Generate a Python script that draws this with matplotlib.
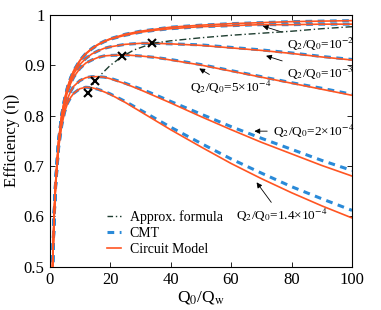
import numpy as np
import matplotlib
matplotlib.use('Agg')
import matplotlib.pyplot as plt

plt.rcParams['font.family'] = 'serif'
plt.rcParams['font.serif'] = ['Liberation Serif', 'DejaVu Serif']
plt.rcParams['mathtext.fontset'] = 'stix'

# abscisse Q0/Qw
x = [0.7, 1, 1.5, 2, 3, 4, 5, 6, 7, 8, 10, 12, 14, 16, 18, 20, 25, 30, 35, 40,
     50, 60, 70, 80, 90, 100]

# modele circuit
eta_top = [0.412, 0.500, 0.600, 0.667, 0.750, 0.800, 0.833, 0.857, 0.875, 0.889,
           0.909, 0.923, 0.933, 0.941, 0.947, 0.952, 0.961, 0.967, 0.971, 0.975,
           0.979, 0.982, 0.984, 0.986, 0.987, 0.988]
eta_1e2 = [0.412, 0.500, 0.600, 0.667, 0.750, 0.800, 0.833, 0.857, 0.874, 0.888,
           0.908, 0.922, 0.932, 0.940, 0.946, 0.951, 0.959, 0.965, 0.969, 0.972,
           0.976, 0.978, 0.980, 0.980, 0.981, 0.981]
eta_1e3 = [0.411, 0.500, 0.599, 0.666, 0.748, 0.797, 0.830, 0.853, 0.870, 0.883,
           0.901, 0.913, 0.922, 0.928, 0.933, 0.936, 0.941, 0.943, 0.943, 0.942,
           0.939, 0.934, 0.929, 0.923, 0.916, 0.910]
eta_5e4 = [0.411, 0.499, 0.598, 0.664, 0.746, 0.794, 0.826, 0.848, 0.864, 0.876,
           0.893, 0.904, 0.910, 0.915, 0.918, 0.919, 0.920, 0.918, 0.915, 0.910,
           0.900, 0.888, 0.876, 0.864, 0.852, 0.840]
eta_2e4 = [0.410, 0.498, 0.596, 0.661, 0.740, 0.786, 0.815, 0.834, 0.848, 0.858,
           0.869, 0.875, 0.877, 0.877, 0.876, 0.873, 0.863, 0.851, 0.838, 0.825,
           0.798, 0.772, 0.747, 0.724, 0.701, 0.680]
eta_14e4 = [0.410, 0.497, 0.594, 0.658, 0.736, 0.779, 0.807, 0.825, 0.836, 0.844,
            0.853, 0.856, 0.855, 0.852, 0.847, 0.842, 0.826, 0.808, 0.790, 0.772,
            0.738, 0.705, 0.675, 0.647, 0.621, 0.597]

# CMT
cmt_top = eta_top
cmt_1e2 = eta_1e2
cmt_1e3 = [0.411, 0.500, 0.599, 0.666, 0.748, 0.797, 0.830, 0.853, 0.870, 0.883,
           0.901, 0.913, 0.922, 0.928, 0.933, 0.936, 0.941, 0.943, 0.943, 0.942,
           0.940, 0.935, 0.930, 0.924, 0.917, 0.911]
cmt_5e4 = [0.411, 0.499, 0.598, 0.664, 0.746, 0.794, 0.826, 0.848, 0.864, 0.876,
           0.893, 0.904, 0.910, 0.915, 0.918, 0.919, 0.920, 0.918, 0.915, 0.911,
           0.901, 0.889, 0.877, 0.865, 0.854, 0.842]
cmt_2e4 = [0.410, 0.498, 0.596, 0.661, 0.740, 0.786, 0.815, 0.834, 0.848, 0.858,
           0.869, 0.875, 0.877, 0.877, 0.876, 0.874, 0.864, 0.853, 0.841, 0.828,
           0.803, 0.778, 0.755, 0.733, 0.711, 0.691]
cmt_14e4 = [0.410, 0.497, 0.594, 0.658, 0.736, 0.779, 0.807, 0.825, 0.836, 0.844,
            0.853, 0.856, 0.855, 0.852, 0.848, 0.843, 0.828, 0.811, 0.794, 0.777,
            0.745, 0.714, 0.686, 0.659, 0.635, 0.612]

# formule approchee
x_approx = [12.8, 15, 20, 24, 28, 34, 40, 50, 60, 70, 80, 90, 100]
eta_approx = [0.844, 0.869, 0.899, 0.917, 0.930, 0.943, 0.948, 0.954, 0.959,
              0.963, 0.967, 0.972, 0.976]
x_croix = [12.8, 15, 24, 34]
eta_croix = [0.844, 0.869, 0.917, 0.943]

orange = '#ff5522'
bleu = '#2a8ad8'
vert = '#1e3d30'

fig = plt.figure(figsize=(3.81, 3.10), dpi=100)
ax = fig.add_axes([0.130, 0.139, 0.794, 0.814])

cmt = [cmt_top, cmt_1e2, cmt_1e3, cmt_5e4, cmt_2e4, cmt_14e4]
circ = [eta_top, eta_1e2, eta_1e3, eta_5e4, eta_2e4, eta_14e4]
for c in cmt:
    ax.plot(x, c, color=bleu, lw=2.2, linestyle=(0, (2.2, 1.8)), zorder=2)
for c in circ:
    ax.plot(x, c, color=orange, lw=1.2, zorder=3)
ax.plot(x_approx, eta_approx, color=vert, lw=1.0, linestyle=(0, (5, 2, 1, 2)), zorder=4)
ax.plot(x_croix, eta_croix, 'x', color='k', ms=6, mew=1.5, zorder=5)

# legende
h1, = ax.plot([], [], color=vert, lw=1.0, linestyle=(0, (4, 2, 1, 2)))
h2, = ax.plot([], [], color=bleu, lw=2.2, linestyle=(0, (2.2, 1.8)))
h3, = ax.plot([], [], color=orange, lw=1.2)
ax.legend([h1, h2, h3], ['Approx. formula', 'CMT', 'Circuit Model'],
          loc='lower left', bbox_to_anchor=(0.15, -0.005), frameon=False,
          fontsize=10, handlelength=1.0, handletextpad=0.6, labelspacing=0.2)

fl = dict(arrowstyle='-|>', color='k', lw=0.6, mutation_scale=8)
fs = 9.5
ax.annotate('Q$_2$/Q$_0$=10$^{-2}$', xy=(69.6, 0.979), xytext=(78.5, 0.958),
            fontsize=fs, ha='left', va='top', arrowprops=fl)
ax.annotate('Q$_2$/Q$_0$=10$^{-3}$', xy=(70.7, 0.920), xytext=(78.5, 0.901),
            fontsize=fs, ha='left', va='top', arrowprops=fl)
ax.annotate('Q$_2$/Q$_0$=5×10$^{-4}$', xy=(48.7, 0.896), xytext=(46.5, 0.873),
            fontsize=fs, ha='left', va='top', arrowprops=fl)
ax.annotate('Q$_2$/Q$_0$=2×10$^{-4}$', xy=(66.8, 0.769), xytext=(73.8, 0.769),
            fontsize=fs, ha='left', va='center', arrowprops=fl)
ax.annotate('Q$_2$/Q$_0$=1.4×10$^{-4}$', xy=(67.9, 0.672), xytext=(61.5, 0.618),
            fontsize=fs, ha='left', va='top', arrowprops=fl)

ax.set_xlim(0, 100)
ax.set_ylim(0.5, 1)
ax.set_xticks([0, 20, 40, 60, 80, 100])
ax.set_yticks([0.5, 0.6, 0.7, 0.8, 0.9, 1.0])
ax.set_yticklabels(['0.5', '0.6', '0.7', '0.8', '0.9', '1'])
ax.tick_params(direction='in', top=True, right=True, labelsize=12, length=3.5, width=0.6)
for s in ax.spines.values():
    s.set_linewidth(0.8)
ax.set_xlabel('Q$_0$/Q$_\\mathrm{w}$', fontsize=12.5, labelpad=1)
ax.set_ylabel('Efficiency (η)', fontsize=12, labelpad=3)

fig.savefig('out.png', dpi=100)
